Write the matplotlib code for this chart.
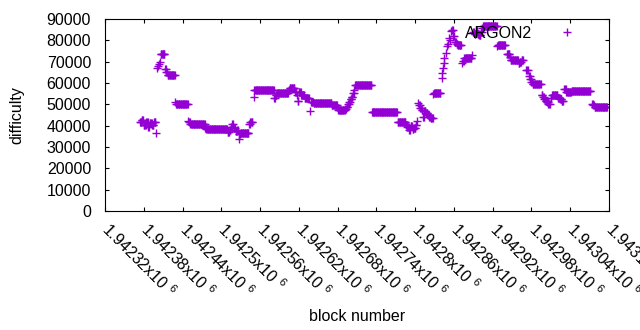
import numpy as np
import matplotlib
matplotlib.use('Agg')
import matplotlib.pyplot as plt

plt.rcParams['font.family'] = ['Liberation Sans', 'DejaVu Sans']
plt.rcParams['mathtext.fontset'] = 'custom'
plt.rcParams['mathtext.rm'] = 'Liberation Sans'
plt.rcParams['mathtext.it'] = 'Liberation Sans:italic'

# difficulty per block, stored as runs: start offset (from first_block), length, value
first_block = 1942320
seg_start = [54, 57, 60, 64, 67, 69, 73, 76, 79,
             81, 82, 84, 85, 86, 93, 95, 97,
             109, 110, 129, 130, 132, 155, 157,
             190, 193, 195, 197, 199, 202, 205, 207, 208, 210,
             223, 225, 230, 231, 262, 264, 266,
             284, 286, 294, 297, 298, 300, 304, 309, 317, 319, 323,
             351, 360, 361, 372, 374, 376, 378, 380, 382, 384, 386, 387,
             413, 453, 466, 468, 471, 473, 476, 478, 481, 483,
             485, 486, 488, 490, 492, 494, 497, 500, 502, 504, 508, 509,
             521, 522, 523, 524, 525, 527, 529, 531, 532, 534, 536, 537,
             539, 541, 544, 546, 553, 554, 556, 568,
             570, 572, 574, 577, 579, 582, 584, 585, 607, 608, 622,
             627, 628, 640, 642, 645, 652, 656, 658, 660, 662,
             676, 678, 680, 682, 684, 686, 690, 692, 701, 704, 707,
             711, 714, 716, 722, 754, 756, 758]
seg_len = [3, 3, 4, 3, 2, 4, 3, 3, 1,
           1, 1, 1, 1, 7, 2, 2, 12,
           1, 19, 1, 2, 23, 2, 33,
           3, 2, 2, 2, 3, 3, 2, 1, 2, 13,
           2, 4, 1, 31, 2, 2, 18,
           2, 8, 3, 1, 2, 4, 5, 7, 1, 4, 28,
           9, 1, 11, 2, 2, 2, 2, 2, 2, 2, 1, 26,
           40, 13, 2, 3, 2, 3, 2, 3, 2, 1,
           1, 2, 2, 2, 2, 3, 3, 2, 2, 4, 1, 11,
           1, 1, 1, 1, 1, 1, 1, 1, 1, 1, 1, 2,
           2, 3, 2, 6, 1, 2, 12, 1,
           2, 2, 3, 2, 3, 2, 1, 22, 1, 12, 5,
           1, 12, 2, 3, 3, 3, 2, 2, 2, 13,
           2, 2, 2, 2, 2, 3, 2, 9, 3, 3, 3,
           3, 2, 6, 30, 2, 2, 20]
seg_diff = [41800, 42500, 40500, 41500, 39500, 41200, 40200, 41600, 36700,
            66900, 68000, 69000, 70000, 73400, 66400, 65300, 63700,
            51000, 50200, 42300, 41500, 40800, 39000, 38300,
            37200, 38200, 39500, 41000, 39000, 37500, 38000, 33600, 36000, 36400,
            40800, 41900, 53300, 56700, 52800, 54500, 55200,
            56500, 57500, 55900, 54400, 51600, 55900, 54400, 52800, 46900, 51200, 50500,
            49700, 48200, 47300, 48000, 48900, 50000, 51200, 52300, 53600, 55200, 56500, 59000,
            46300, 41900, 40300, 39200, 38000, 39800, 38300, 39000, 40300, 42200,
            50700, 49700, 48300, 47500, 44200, 46900, 46000, 45200, 44000, 43400, 55000, 55200,
            62200, 64500, 67000, 69500, 71600, 74000, 77500, 78500, 81000, 80000, 84400, 85000,
            82000, 79400, 78500, 77800, 69200, 70500, 71600, 73100,
            84000, 82800, 84500, 83000, 82300, 84000, 86000, 86700, 77500, 77800, 73400,
            72000, 70800, 69600, 70000, 70800, 66100, 63500, 61900, 60500, 59400,
            54400, 53500, 52500, 51500, 51000, 50000, 52800, 54400, 53100, 52500, 51600,
            57200, 55900, 55900, 56100, 50000, 49500, 48900]

blocks = np.concatenate([first_block + s + np.arange(n) for s, n in zip(seg_start, seg_len)])
difficulty = np.repeat(seg_diff, seg_len)

xticks = np.arange(1942320, 1943101, 60)
xlabels = ['{:g}x10 $^{{6}}$'.format(t / 1e6) for t in xticks]

fig = plt.figure(figsize=(6.4, 3.3), dpi=100)
ax = fig.add_axes([105/640, 1 - 211/330, 504/640, 192/330])
ax.plot(blocks, difficulty, '+', color='#9400d3', ms=5.5, mew=1.0, label='ARGON2')

ax.set_xlim(1942320, 1943100)
ax.set_ylim(0, 90000)
ax.set_yticks(np.arange(0, 90001, 10000))
ax.set_xticks(xticks)
ax.set_xticklabels(xlabels, rotation=-45, ha='left', va='center', rotation_mode='anchor')
ax.tick_params(direction='in', length=3, width=0.8, top=True, right=True, labelsize=11.5)
ax.tick_params(axis='y', pad=10)
ax.tick_params(axis='x', pad=11)
for s in ax.spines.values():
    s.set_linewidth(0.8)

ax.set_xlabel('block number', fontsize=11.5)
ax.set_ylabel('difficulty', fontsize=11.5)
ax.xaxis.set_label_coords(0.5, -0.51)
ax.yaxis.set_label_coords(-0.16, 0.5)

ax.legend(loc='upper right', bbox_to_anchor=(0.948, 0.965), frameon=False, markerfirst=False,
          fontsize=11.5, handlelength=2, handletextpad=1.2, borderpad=0, borderaxespad=0)

plt.savefig('out.png', dpi=100)
